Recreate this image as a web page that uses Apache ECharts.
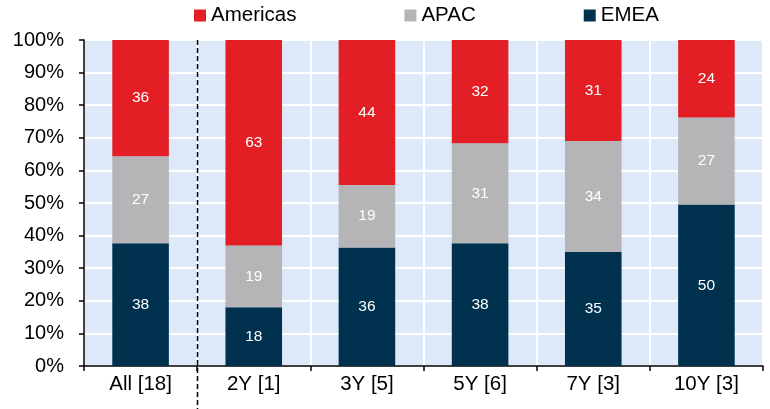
<!DOCTYPE html>
<html>
<head>
<meta charset="utf-8">
<script src="https://cdn.jsdelivr.net/npm/echarts@6/dist/echarts.min.js"></script>
<style>
  html, body { margin: 0; padding: 0; background: #fff; }
  #chart { width: 770px; height: 409px; }
</style>
</head>
<body>
<div id="chart"></div>
<script>
// categories and shares (%) as printed on the bars
const categories = ['All [18]', '2Y [1]', '3Y [5]', '5Y [6]', '7Y [3]', '10Y [3]'];
const emea = [38, 18, 36, 38, 35, 50];
const apac = [27, 19, 19, 31, 34, 27];
const americas = [36, 63, 44, 32, 31, 24];
const yTicks = [0, 10, 20, 30, 40, 50, 60, 70, 80, 90, 100];

// scale each column to 100% (printed figures are rounded)
const totals = categories.map((c, i) => emea[i] + apac[i] + americas[i]);
const norm = arr => arr.map((v, i) => ({ value: v / totals[i] * 100, label: v }));

const FONT = 'Liberation Sans, Arial, sans-serif';

const makeSeries = (name, arr, color) => ({
  name: name,
  type: 'bar',
  stack: 'total',
  barWidth: '50%',
  data: norm(arr),
  itemStyle: { color: color },
  label: {
    show: true,
    position: 'inside',
    color: '#fff',
    fontFamily: FONT,
    fontSize: 15.5,
    formatter: p => p.data.label
  }
});

const chart = echarts.init(document.getElementById('chart'));
chart.setOption({
  animation: false,
  textStyle: { fontFamily: FONT },
  legend: {
    top: 0,
    left: 189,
    itemWidth: 12,
    itemHeight: 12,
    itemGap: 108,
    icon: 'rect',
    textStyle: { fontSize: 20.5, color: '#000', fontFamily: FONT },
    data: ['Americas', 'APAC', 'EMEA']
  },
  grid: {
    left: 84, right: 7, top: 40, bottom: 43,
    show: true,
    backgroundColor: '#dde9f9',
    borderWidth: 0
  },
  xAxis: {
    type: 'category',
    data: categories,
    axisLine: { lineStyle: { color: '#000', width: 1.5 } },
    axisTick: { show: true, length: 5, lineStyle: { color: '#000', width: 1.5 } },
    axisLabel: { fontSize: 20.5, color: '#000', margin: 8, fontFamily: FONT },
    splitLine: { show: true, lineStyle: { color: '#fff', width: 2 } }
  },
  yAxis: {
    type: 'value',
    min: 0,
    max: 100,
    interval: 10,
    axisLine: { show: true, lineStyle: { color: '#000', width: 1.5 } },
    axisTick: { show: true, length: 5, lineStyle: { color: '#000', width: 1.5 } },
    axisLabel: {
      fontSize: 20, color: '#000', margin: 20, fontFamily: FONT,
      formatter: v => yTicks.includes(v) ? v + '%' : ''
    },
    splitLine: { show: true, lineStyle: { color: '#fff', width: 2 } }
  },
  series: [
    makeSeries('EMEA', emea, '#00324f'),
    makeSeries('APAC', apac, '#b5b5b7'),
    makeSeries('Americas', americas, '#e31e24')
  ]
});

// dashed divider between "All" and the tenor groups
const x0 = chart.convertToPixel({ xAxisIndex: 0 }, 0);
const x1 = chart.convertToPixel({ xAxisIndex: 0 }, 1);
const yTop = chart.convertToPixel({ yAxisIndex: 0 }, 100);
const xd = Math.round((x0 + x1) / 2) + 0.5;
chart.setOption({
  graphic: [{
    type: 'line',
    z: 100,
    shape: { x1: xd, y1: yTop, x2: xd, y2: 409 },
    style: { stroke: '#000', lineWidth: 1.5, lineDash: [5, 3] }
  }]
});
</script>
</body>
</html>
